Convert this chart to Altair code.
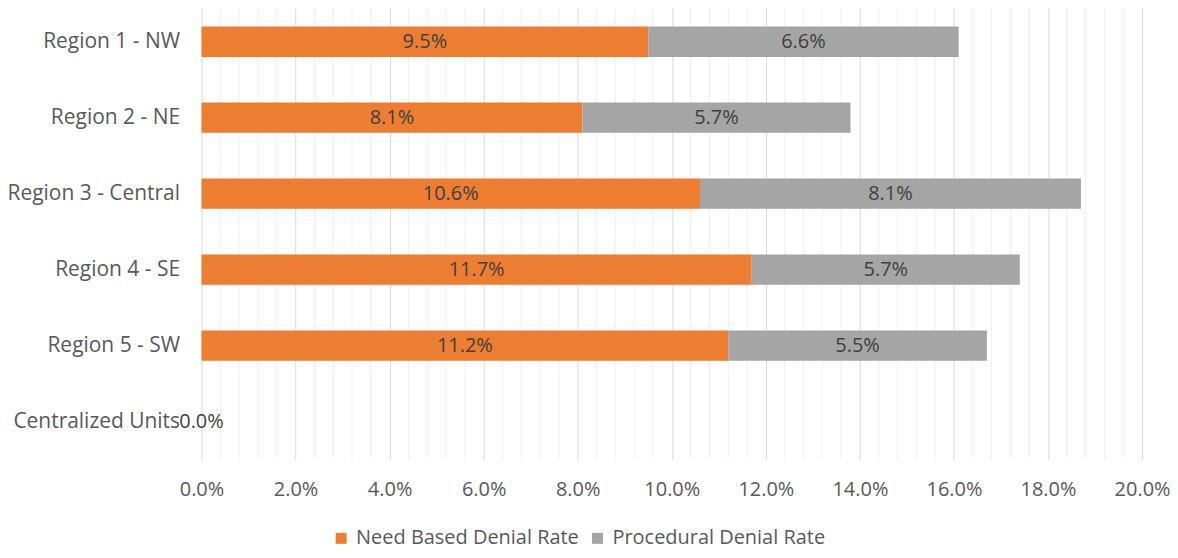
import altair as alt
import pandas as pd

regions = ["Region 1 - NW", "Region 2 - NE", "Region 3 - Central",
           "Region 4 - SE", "Region 5 - SW", "Centralized Units"]
need_based = [9.5, 8.1, 10.6, 11.7, 11.2, 0.0]
procedural = [6.6, 5.7, 8.1, 5.7, 5.5, None]
series_names = ["Need Based Denial Rate", "Procedural Denial Rate"]
series_colors = ["#ED7D31", "#A5A5A5"]
major_ticks = [0, 2, 4, 6, 8, 10, 12, 14, 16, 18, 20]
minor_ticks = [0.4, 0.8, 1.2, 1.6, 2.4, 2.8, 3.2, 3.6, 4.4, 4.8, 5.2, 5.6,
               6.4, 6.8, 7.2, 7.6, 8.4, 8.8, 9.2, 9.6, 10.4, 10.8, 11.2, 11.6,
               12.4, 12.8, 13.2, 13.6, 14.4, 14.8, 15.2, 15.6, 16.4, 16.8, 17.2, 17.6,
               18.4, 18.8, 19.2, 19.6]

rows = []
for r, a, b in zip(regions, need_based, procedural):
    if a is not None:
        rows.append({"region": r, "series": series_names[0], "order": 0, "value": a})
    if b is not None:
        rows.append({"region": r, "series": series_names[1], "order": 1, "value": b})
df = pd.DataFrame(rows)
minor_df = pd.DataFrame({"t": minor_ticks})

FONT = "Open Sans"
W, H = 943, 457

xscale = alt.Scale(domain=[0, 20], nice=False, zero=True)
yscale = alt.Scale(domain=regions, paddingInner=0.6, paddingOuter=0.3)

xaxis = alt.Axis(values=major_ticks, title=None, grid=True, gridColor="#D9D9D9",
                 gridWidth=1, domain=False, ticks=False, labelFlush=False,
                 labelExpr="format(datum.value, '.1f') + '%'",
                 labelFont=FONT, labelFontSize=20, labelColor="#595959",
                 labelPadding=20)

minor = alt.Chart(minor_df).mark_rule(color="#EFEFEF", strokeWidth=1).encode(
    x=alt.X("t:Q", scale=xscale, axis=xaxis)
)

base = alt.Chart(df).transform_stack(
    stack="value", groupby=["region"], sort=[alt.SortField("order")], as_=["x0", "x1"]
).transform_calculate(mid="(datum.x0 + datum.x1) / 2")

bars = base.mark_bar().encode(
    x=alt.X("x0:Q", scale=xscale, axis=xaxis),
    x2="x1:Q",
    y=alt.Y("region:N", scale=yscale, sort=regions,
            axis=alt.Axis(title=None, domain=False, ticks=False, grid=False,
                          labelFont=FONT, labelFontSize=21, labelColor="#595959",
                          labelPadding=22, labelLimit=300)),
    color=alt.Color("series:N", scale=alt.Scale(domain=series_names, range=series_colors),
                    legend=alt.Legend(title=None, orient="none", direction="horizontal",
                                      legendX=130, legendY=526, symbolType="square",
                                      symbolSize=121, symbolStrokeWidth=0,
                                      labelFont=FONT, labelFontSize=20, labelColor="#595959",
                                      labelOffset=5, columnPadding=8, labelLimit=400)),
    order=alt.Order("order:Q"),
)

labels = base.mark_text(font=FONT, fontSize=20, color="#404040").encode(
    x=alt.X("mid:Q", scale=xscale, axis=xaxis),
    y=alt.Y("region:N", scale=yscale, sort=regions),
    text=alt.Text("label:N"),
).transform_calculate(label="format(datum.value, '.1f') + '%'")

chart = alt.layer(minor, bars, labels).properties(
    width=W, height=H,
    autosize=alt.AutoSizeParams(type="none"),
    padding={"left": 194, "top": -5, "right": 28, "bottom": 90},
).configure_view(stroke=None)

chart.save("out.html", embed_options={"renderer": "svg", "actions": False})
